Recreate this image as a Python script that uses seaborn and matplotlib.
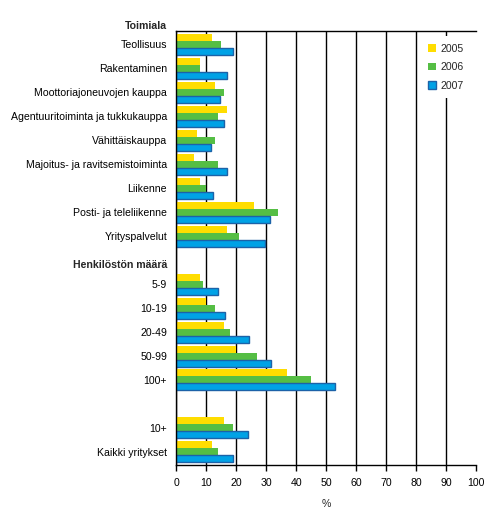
import matplotlib
matplotlib.use("Agg")
import matplotlib.pyplot as plt
from matplotlib.patches import Patch
import pandas as pd
import seaborn as sns

# category labels in drawing order (headers and spacer are empty slots)
industries = [
    "Teollisuus", "Rakentaminen", "Moottoriajoneuvojen kauppa",
    "Agentuuritoiminta ja tukkukauppa", "Vähittäiskauppa",
    "Majoitus- ja ravitsemistoiminta", "Liikenne",
    "Posti- ja teleliikenne", "Yrityspalvelut",
]
sizes = ["5-9", "10-19", "20-49", "50-99", "100+"]
totals = ["10+", "Kaikki yritykset"]
years = ["2005", "2006", "2007"]

# values (%), same order as the labels above
v2005 = [12, 8, 13, 17, 7, 6, 8, 26, 17,
         8, 10, 16, 20, 37,
         16, 12]
v2006 = [15, 8, 16, 14, 13, 14, 10, 34, 21,
         9, 13, 18, 27, 45,
         19, 14]
v2007 = [19, 17, 14.6, 16, 11.6, 17, 12.2, 31.2, 29.7,
         13.9, 16.2, 24.2, 31.6, 53,
         24, 19]

headers = ["Toimiala", "Henkilöstön määrä"]
colors = ["#FFDD00", "#55BE44", "#00A2E6"]
FS = 7.6

labels = industries + sizes + totals
order = industries + ["_h2"] + sizes + ["_gap"] + totals

df = pd.DataFrame({
    "cat": labels * 3,
    "year": [y for y in years for _ in labels],
    "value": v2005 + v2006 + v2007,
})

sns.set_theme(style="white")
plt.rcParams["font.family"] = ["Liberation Sans", "DejaVu Sans"]

fig = plt.figure(figsize=(4.92, 5.25), dpi=100)
ax = fig.add_axes([0.358, 0.114, 0.6095, 0.827])

sns.barplot(data=df, y="cat", x="value", hue="year", order=order,
            hue_order=years, palette=colors, orient="h", width=0.875,
            saturation=1, legend=False, ax=ax)

# 2007 bars get a dark blue outline
for bar in ax.containers[2]:
    bar.set_edgecolor("#1C62A8")
    bar.set_linewidth(1.0)
for c in ax.containers[:2]:
    for bar in c:
        bar.set_linewidth(0)

ax.set_xlim(0, 100)
ax.set_ylim(len(order) - 0.45, -0.55)
ax.set_xticks(range(0, 101, 10))
ax.set_yticks(range(len(order)))
ax.set_yticklabels([c if not c.startswith("_") else "" for c in order])
ax.tick_params(axis="y", length=0, pad=6.5, labelsize=FS, colors="black")
ax.tick_params(axis="x", length=4, width=1, direction="out", bottom=True,
               labelsize=FS, colors="black", pad=5)
ax.set_xlabel("%", fontsize=FS, labelpad=8)
ax.set_ylabel("")

ax.set_axisbelow(True)
ax.xaxis.grid(True, color="black", linewidth=1)
ax.yaxis.grid(False)
ax.xaxis.get_gridlines()[-1].set_visible(False)
for side in ["left", "bottom", "top"]:
    ax.spines[side].set_color("black")
    ax.spines[side].set_linewidth(1)
ax.spines["right"].set_visible(False)

# group headers
for txt, ypos in zip(headers, [-0.75, order.index("_h2") + 0.2]):
    ax.annotate(txt, xy=(0, ypos), xycoords=("axes fraction", "data"),
                xytext=(-6.5, 0), textcoords="offset points",
                ha="right", va="center", fontsize=FS, fontweight="bold",
                annotation_clip=False)

handles = [Patch(facecolor=colors[0], linewidth=0),
           Patch(facecolor=colors[1], linewidth=0),
           Patch(facecolor=colors[2], edgecolor="#1C62A8", linewidth=1)]
leg = ax.legend(handles, years, loc="upper right", bbox_to_anchor=(1.0, 1.0),
                fontsize=FS, frameon=True, framealpha=1, edgecolor="white",
                fancybox=False, handlelength=0.75, handleheight=0.75,
                handletextpad=0.4, labelspacing=0.8, borderpad=0.7)
leg.get_frame().set_linewidth(0)

fig.savefig("out.png", dpi=100)
